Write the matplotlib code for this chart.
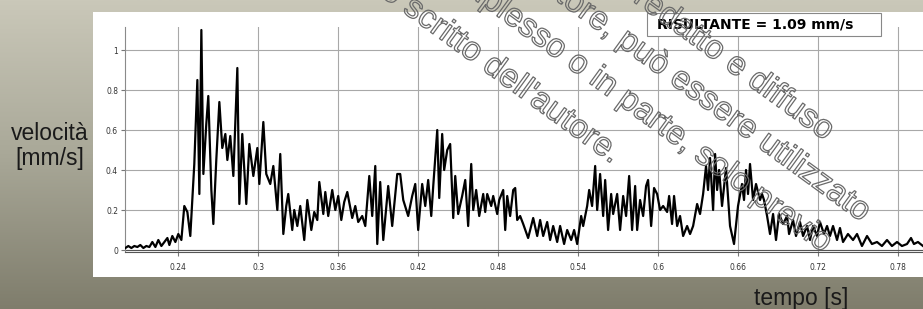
import matplotlib
matplotlib.use("Agg")
import matplotlib.pyplot as plt
import matplotlib.patheffects as pe
from matplotlib.patches import Rectangle
from matplotlib.colors import LinearSegmentedColormap
import numpy as np

# tempo [s] e velocita [mm/s]
tempo = [0.2003, 0.2025, 0.2048, 0.2070, 0.2093, 0.2115, 0.2138, 0.2160, 0.2183, 0.2205,
         0.2228, 0.2250, 0.2273, 0.2295, 0.2318, 0.2333, 0.2355, 0.2378, 0.2400, 0.2423,
         0.2445, 0.2468, 0.2490, 0.2520, 0.2543, 0.2558, 0.2573, 0.2588, 0.2610, 0.2625,
         0.2648, 0.2663, 0.2685, 0.2708, 0.2730, 0.2753, 0.2768, 0.2790, 0.2813, 0.2843,
         0.2858, 0.2880, 0.2910, 0.2933, 0.2963, 0.2993, 0.3008, 0.3038, 0.3060, 0.3090,
         0.3113, 0.3143, 0.3165, 0.3188, 0.3210, 0.3225, 0.3255, 0.3270, 0.3293, 0.3315,
         0.3345, 0.3368, 0.3398, 0.3420, 0.3443, 0.3458, 0.3488, 0.3503, 0.3525, 0.3555,
         0.3578, 0.3600, 0.3623, 0.3645, 0.3668, 0.3705, 0.3728, 0.3750, 0.3780, 0.3803,
         0.3833, 0.3855, 0.3878, 0.3893, 0.3915, 0.3938, 0.3975, 0.4005, 0.4043, 0.4065,
         0.4088, 0.4125, 0.4155, 0.4178, 0.4200, 0.4230, 0.4253, 0.4275, 0.4298, 0.4313,
         0.4343, 0.4358, 0.4380, 0.4395, 0.4418, 0.4440, 0.4463, 0.4478, 0.4500, 0.4530,
         0.4553, 0.4575, 0.4598, 0.4613, 0.4635, 0.4658, 0.4688, 0.4703, 0.4718, 0.4748,
         0.4763, 0.4793, 0.4808, 0.4838, 0.4853, 0.4868, 0.4890, 0.4913, 0.4928, 0.4943,
         0.4965, 0.4988, 0.5025, 0.5063, 0.5093, 0.5115, 0.5138, 0.5168, 0.5190, 0.5213,
         0.5243, 0.5265, 0.5295, 0.5318, 0.5348, 0.5370, 0.5393, 0.5423, 0.5438, 0.5468,
         0.5483, 0.5505, 0.5528, 0.5543, 0.5565, 0.5588, 0.5603, 0.5625, 0.5648, 0.5663,
         0.5693, 0.5715, 0.5738, 0.5760, 0.5783, 0.5805, 0.5828, 0.5843, 0.5865, 0.5888,
         0.5910, 0.5925, 0.5948, 0.5970, 0.5993, 0.6015, 0.6038, 0.6068, 0.6083, 0.6105,
         0.6120, 0.6143, 0.6165, 0.6188, 0.6218, 0.6240, 0.6263, 0.6293, 0.6315, 0.6338,
         0.6360, 0.6375, 0.6390, 0.6413, 0.6428, 0.6443, 0.6458, 0.6480, 0.6510, 0.6540,
         0.6570, 0.6600, 0.6630, 0.6645, 0.6660, 0.6675, 0.6690, 0.6713, 0.6735, 0.6765,
         0.6780, 0.6795, 0.6818, 0.6840, 0.6863, 0.6885, 0.6908, 0.6938, 0.6968, 0.6983,
         0.7013, 0.7035, 0.7065, 0.7088, 0.7118, 0.7140, 0.7163, 0.7193, 0.7215, 0.7245,
         0.7268, 0.7290, 0.7313, 0.7343, 0.7365, 0.7388, 0.7425, 0.7463, 0.7493, 0.7530,
         0.7568, 0.7605, 0.7643, 0.7680, 0.7718, 0.7755, 0.7793, 0.7830, 0.7868, 0.7898,
         0.7920, 0.7950, 0.7988]
velocita = [0.01, 0.02, 0.01, 0.02, 0.015, 0.025, 0.01, 0.02, 0.015, 0.04,
            0.015, 0.05, 0.02, 0.04, 0.06, 0.025, 0.07, 0.04, 0.08, 0.05,
            0.22, 0.19, 0.07, 0.43, 0.85, 0.28, 1.10, 0.38, 0.63, 0.77,
            0.30, 0.13, 0.45, 0.74, 0.51, 0.58, 0.45, 0.57, 0.37, 0.91,
            0.23, 0.58, 0.23, 0.53, 0.37, 0.51, 0.33, 0.64, 0.38, 0.33,
            0.42, 0.20, 0.48, 0.08, 0.22, 0.28, 0.10, 0.20, 0.12, 0.22,
            0.05, 0.25, 0.10, 0.19, 0.15, 0.34, 0.18, 0.29, 0.17, 0.30,
            0.20, 0.27, 0.15, 0.24, 0.29, 0.16, 0.22, 0.14, 0.17, 0.12,
            0.37, 0.17, 0.42, 0.03, 0.34, 0.05, 0.32, 0.12, 0.38, 0.38,
            0.25, 0.17, 0.27, 0.33, 0.10, 0.33, 0.22, 0.35, 0.17, 0.32,
            0.60, 0.26, 0.58, 0.40, 0.50, 0.53, 0.16, 0.37, 0.18, 0.27,
            0.35, 0.12, 0.43, 0.20, 0.30, 0.17, 0.28, 0.19, 0.28, 0.22,
            0.27, 0.18, 0.25, 0.30, 0.10, 0.27, 0.17, 0.30, 0.31, 0.15,
            0.17, 0.13, 0.06, 0.16, 0.07, 0.15, 0.07, 0.14, 0.05, 0.12,
            0.04, 0.12, 0.03, 0.10, 0.05, 0.10, 0.03, 0.17, 0.12, 0.22,
            0.30, 0.22, 0.42, 0.20, 0.38, 0.17, 0.35, 0.10, 0.28, 0.18,
            0.28, 0.10, 0.27, 0.17, 0.37, 0.10, 0.32, 0.10, 0.25, 0.17,
            0.32, 0.35, 0.12, 0.31, 0.28, 0.20, 0.22, 0.19, 0.27, 0.13,
            0.27, 0.12, 0.17, 0.07, 0.12, 0.08, 0.12, 0.23, 0.18, 0.28,
            0.42, 0.30, 0.46, 0.20, 0.48, 0.30, 0.40, 0.22, 0.41, 0.12,
            0.03, 0.22, 0.33, 0.25, 0.40, 0.28, 0.43, 0.25, 0.33, 0.25,
            0.28, 0.25, 0.17, 0.08, 0.18, 0.05, 0.18, 0.13, 0.17, 0.08,
            0.15, 0.07, 0.14, 0.07, 0.12, 0.05, 0.12, 0.07, 0.14, 0.08,
            0.12, 0.07, 0.12, 0.05, 0.11, 0.04, 0.08, 0.05, 0.08, 0.02,
            0.07, 0.03, 0.04, 0.02, 0.05, 0.02, 0.04, 0.02, 0.03, 0.06,
            0.03, 0.04, 0.02]

xticks = [0.24, 0.3, 0.36, 0.42, 0.48, 0.54, 0.6, 0.66, 0.72, 0.78]
yticks = [0, 0.2, 0.4, 0.6, 0.8, 1]
risultante = 1.09

filigrana = ["Questo documento, redatto e diffuso",
             "dall'autore, può essere utilizzato",
             "nel suo complesso o in parte, solo previo",
             "consenso scritto dell'autore."]

W, H = 923, 309
fig = plt.figure(figsize=(W / 100, H / 100), dpi=100)

# sfondo grigio sfumato
bg = fig.add_axes([0, 0, 1, 1], zorder=-10)
cmap = LinearSegmentedColormap.from_list("bg", ["#cac8b9", "#a9a898", "#7f7d6c"])
grad = np.linspace(0, 1, 256).reshape(-1, 1)
bg.imshow(grad, aspect="auto", cmap=cmap, extent=[0, 1, 0, 1])
bg.axis("off")

# pannello bianco
fig.patches.append(Rectangle((93 / W, 1 - 277 / H), 830 / W, 265 / H,
                             transform=fig.transFigure, facecolor="white",
                             edgecolor="none", zorder=-5))

ax = fig.add_axes([125 / W, 1 - 252 / H, (W - 125) / W, 225 / H])
ax.plot(tempo, velocita, color="black", lw=1.6, zorder=3)
ax.set_xlim(0.2, 0.7988)
ax.set_ylim(-0.01, 1.115)
ax.set_xticks(xticks)
ax.set_yticks(yticks)
ax.set_xticklabels(["%g" % v for v in xticks])
ax.set_yticklabels(["%g" % v for v in yticks])
ax.grid(True, color="#a8a8a8", lw=0.8)
ax.axhline(0, color="#555555", lw=0.8, zorder=2)
for s in ["top", "right"]:
    ax.spines[s].set_visible(False)
ax.spines["left"].set_color("#8a8a8a")
ax.spines["bottom"].set_color("#555555")
ax.tick_params(length=3, color="#777777", labelsize=5.5, labelcolor="#333333")
ax.tick_params(axis="x", pad=5)
ax.tick_params(axis="y", pad=2)

fig.text(50 / W, 1 - 146 / H, "velocità\n[mm/s]", ha="center", va="center",
         multialignment="center", fontsize=16.5, family="Liberation Sans",
         color="#1a1a1a", linespacing=1.1)
fig.text(801 / W, 1 - 298 / H, "tempo [s]", ha="center", va="center",
         fontsize=16.5, family="Liberation Sans", color="#1a1a1a")

# riquadro risultante
fig.patches.append(Rectangle((647 / W, 1 - 36 / H), 234 / W, 23 / H,
                             transform=fig.transFigure, facecolor="white",
                             edgecolor="#888888", lw=0.8, zorder=5))
fig.text(657 / W, 1 - 24.5 / H, "RISULTANTE = %.2f mm/s" % risultante,
         ha="left", va="center", fontsize=10, fontweight="bold",
         family="DejaVu Sans", color="black", zorder=6)

# filigrana in contorno
fine = [(825, 141), (861, 222), (823, 253), (612, 164)]
for riga, (px, py) in zip(filigrana, fine):
    fig.text(px / W, 1 - py / H, riga, ha="right", va="baseline",
             rotation=-36, rotation_mode="anchor", fontsize=24,
             family="Liberation Sans", color=(1, 1, 1, 0), zorder=10,
             path_effects=[pe.withStroke(linewidth=0.9, foreground="#6a6a6a")])

fig.savefig("out.png", dpi=100)
